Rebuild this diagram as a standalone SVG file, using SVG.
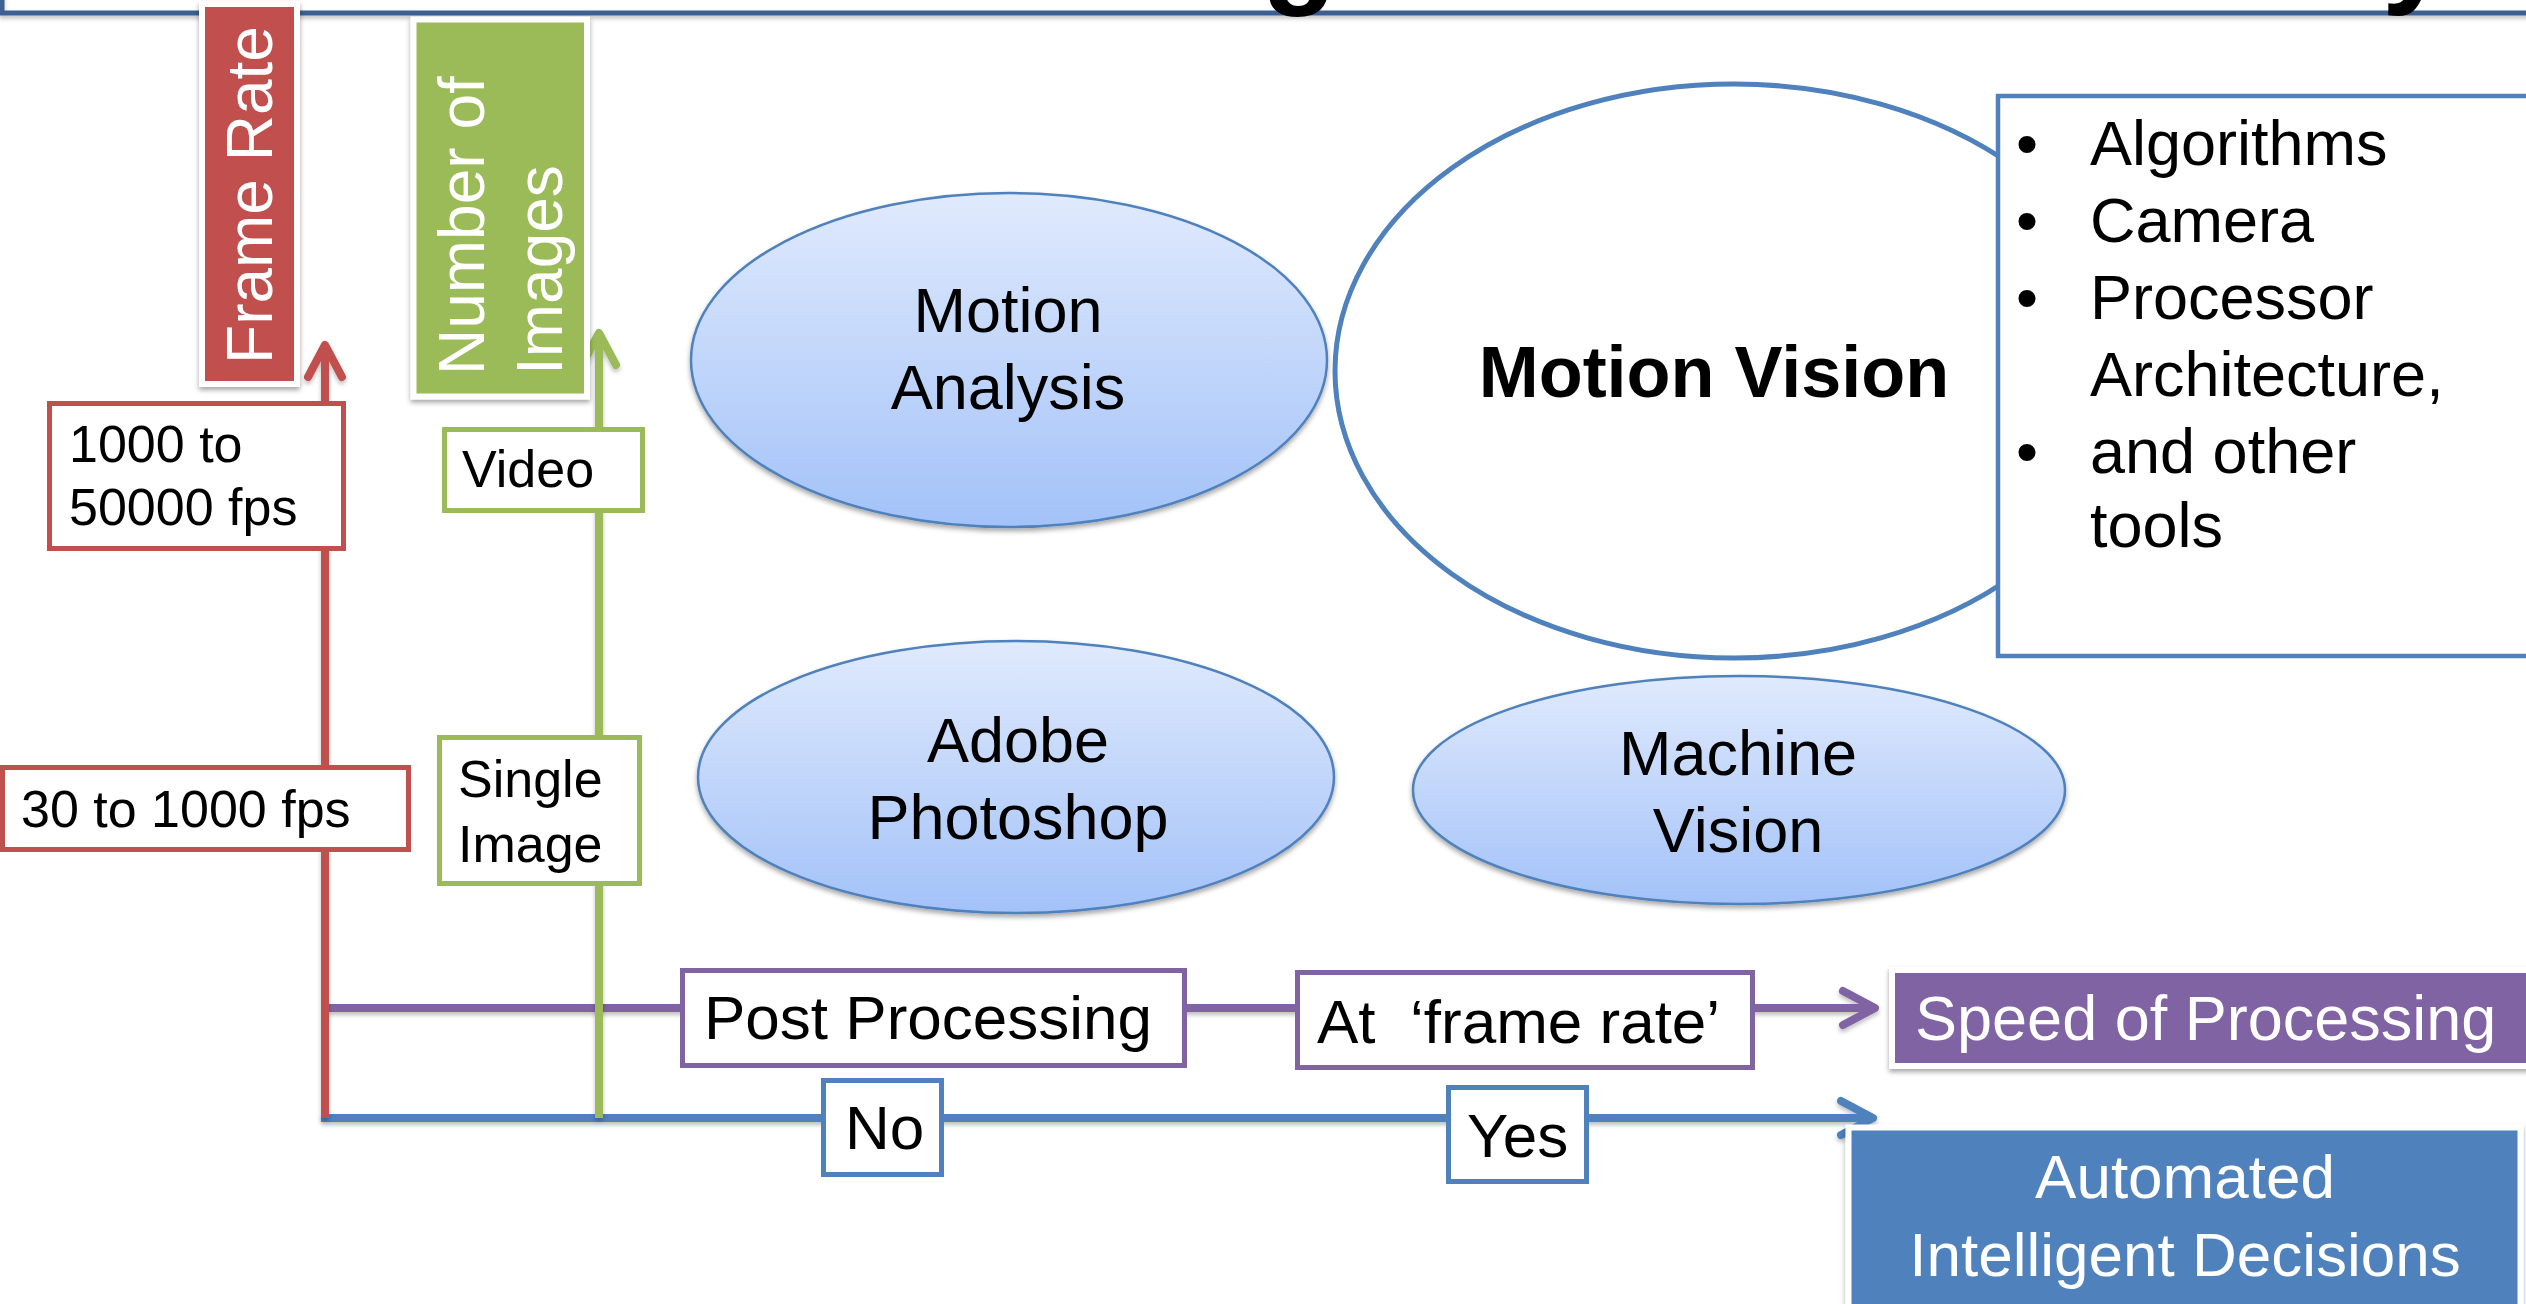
<svg xmlns="http://www.w3.org/2000/svg" width="2526" height="1304" viewBox="0 0 2526 1304">
  <defs>
    <linearGradient id="bubble" x1="0" y1="0" x2="0" y2="1">
      <stop offset="0" stop-color="#e0eafd"/>
      <stop offset="1" stop-color="#a3c2f8"/>
    </linearGradient>
    <filter id="shadow" x="-10%" y="-10%" width="120%" height="130%">
      <feDropShadow dx="0" dy="3" stdDeviation="2.5" flood-color="#000" flood-opacity="0.35"/>
    </filter>
    <!-- user-space region so zero-height strokes still get a shadow -->
    <filter id="lineShadow" filterUnits="userSpaceOnUse" x="-100" y="-100" width="2800" height="1500">
      <feDropShadow dx="0" dy="3" stdDeviation="2" flood-color="#000" flood-opacity="0.25"/>
    </filter>
    <marker id="headRed" markerUnits="userSpaceOnUse" orient="auto" markerWidth="60" markerHeight="60" viewBox="-40 -30 50 60" refX="0" refY="0" overflow="visible">
      <path d="M-32,-17 L0,0 L-32,17" fill="none" stroke="#c0504d" stroke-width="8" stroke-linecap="round" stroke-linejoin="round"/>
    </marker>
    <marker id="headGreen" markerUnits="userSpaceOnUse" orient="auto" markerWidth="60" markerHeight="60" viewBox="-40 -30 50 60" refX="0" refY="0" overflow="visible">
      <path d="M-32,-17 L0,0 L-32,17" fill="none" stroke="#9bbb59" stroke-width="8" stroke-linecap="round" stroke-linejoin="round"/>
    </marker>
    <marker id="headPurple" markerUnits="userSpaceOnUse" orient="auto" markerWidth="60" markerHeight="60" viewBox="-40 -30 50 60" refX="0" refY="0" overflow="visible">
      <path d="M-32,-17 L0,0 L-32,17" fill="none" stroke="#8064a2" stroke-width="8" stroke-linecap="round" stroke-linejoin="round"/>
    </marker>
    <marker id="headBlue" markerUnits="userSpaceOnUse" orient="auto" markerWidth="60" markerHeight="60" viewBox="-40 -30 50 60" refX="0" refY="0" overflow="visible">
      <path d="M-32,-17 L0,0 L-32,17" fill="none" stroke="#4f81bd" stroke-width="8" stroke-linecap="round" stroke-linejoin="round"/>
    </marker>
  </defs>
  <style>
    text { font-family: "Liberation Sans", Arial, sans-serif; fill: #000; }
    .t52 { font-size: 52px; }
    .t63 { font-size: 63px; }
    .white { fill: #fff; }
    .mid { text-anchor: middle; }
    .bold { font-weight: bold; }
    .bubble { fill: url(#bubble); stroke: #4f81bd; stroke-width: 2.5; filter: url(#shadow); }
    .lbl { fill: #fff; stroke-width: 5; }
    .red { stroke: #c0504d; }
    .green { stroke: #9bbb59; }
    .purple { stroke: #8064a2; }
    .blue { stroke: #4f81bd; }
    .axis { fill: none; stroke-width: 8; filter: url(#lineShadow); }
    .tile { stroke: #fff; stroke-width: 6; filter: url(#shadow); }
  </style>

  <rect width="2526" height="1304" fill="#fff"/>

  <!-- title frame along the top edge -->
  <g id="title-frame">
    <rect x="2" y="-60" width="2600" height="73" fill="none" stroke="#3b6191" stroke-width="5" filter="url(#lineShadow)"/>
    <text x="1262" y="-9" class="bold" font-size="122">g</text>
    <text x="2382" y="-9" class="bold" font-size="122">y</text>
  </g>

  <!-- connectors -->
  <g id="connectors">
    <path class="axis purple" d="M325,1008 H1875" marker-end="url(#headPurple)"/>
    <path class="axis blue" d="M321,1118 H1873" marker-end="url(#headBlue)"/>
    <path class="axis green" d="M599,1118 V333" marker-end="url(#headGreen)"/>
    <path class="axis red" d="M325,1118 V345" marker-end="url(#headRed)"/>
  </g>

  <!-- axis titles -->
  <g id="frame-rate">
    <rect class="tile" x="202" y="4" width="95" height="380" fill="#c0504d"/>
    <text class="white mid" font-size="64" transform="translate(272,195) rotate(-90)">Frame Rate</text>
  </g>
  <g id="number-of-images">
    <rect class="tile" x="413.5" y="19.5" width="173.5" height="377" fill="#9bbb59"/>
    <text class="white" font-size="64" transform="translate(484,375) rotate(-90)">
      <tspan x="0" y="0">Number of</tspan>
      <tspan x="0" y="78">Images</tspan>
    </text>
  </g>

  <!-- frame rate labels -->
  <g id="fps-high">
    <rect class="lbl red" x="49.5" y="403.5" width="294" height="145"/>
    <text class="t52" x="69" y="462">1000 to</text>
    <text class="t52" x="69" y="525">50000 fps</text>
  </g>
  <g id="fps-low">
    <rect class="lbl red" x="2.5" y="767.5" width="406" height="82"/>
    <text class="t52" x="21" y="827">30 to 1000 fps</text>
  </g>

  <!-- number of images labels -->
  <g id="video">
    <rect class="lbl green" x="444.5" y="429.5" width="198" height="81"/>
    <text class="t52" x="462" y="487">Video</text>
  </g>
  <g id="single-image">
    <rect class="lbl green" x="439.5" y="737.5" width="200" height="146"/>
    <text class="t52" x="458" y="797">Single</text>
    <text class="t52" x="458" y="862">Image</text>
  </g>

  <!-- application areas -->
  <g id="motion-analysis">
    <ellipse class="bubble" cx="1009" cy="360" rx="318" ry="167"/>
    <text class="t63 mid" x="1008" y="332">Motion</text>
    <text class="t63 mid" x="1008" y="409">Analysis</text>
  </g>
  <g id="adobe-photoshop">
    <ellipse class="bubble" cx="1016" cy="777" rx="318" ry="136"/>
    <text class="t63 mid" x="1018" y="762">Adobe</text>
    <text class="t63 mid" x="1018" y="839">Photoshop</text>
  </g>
  <g id="machine-vision">
    <ellipse class="bubble" cx="1739" cy="790" rx="326" ry="114"/>
    <text class="t63 mid" x="1738" y="775">Machine</text>
    <text class="t63 mid" x="1738" y="852">Vision</text>
  </g>
  <g id="motion-vision">
    <ellipse cx="1734" cy="371" rx="399" ry="287" fill="#fff" stroke="#4f81bd" stroke-width="5"/>
    <text class="bold mid" font-size="72" x="1714" y="397">Motion Vision</text>
  </g>
  <g id="tools">
    <rect x="1998" y="96" width="540" height="560" fill="#fff" stroke="#4f81bd" stroke-width="4.5"/>
    <g class="t63">
      <text x="2016" y="165">•</text>
      <text x="2090" y="165">Algorithms</text>
      <text x="2016" y="242">•</text>
      <text x="2090" y="242">Camera</text>
      <text x="2016" y="319">•</text>
      <text x="2090" y="319">Processor</text>
      <text x="2090" y="396">Architecture,</text>
      <text x="2016" y="473">•</text>
      <text x="2090" y="473">and other</text>
      <text x="2090" y="547">tools</text>
    </g>
  </g>

  <!-- processing speed labels -->
  <g id="post-processing">
    <rect class="lbl purple" x="682.5" y="970.5" width="502" height="95"/>
    <text x="704" y="1039" font-size="62">Post Processing</text>
  </g>
  <g id="at-frame-rate">
    <rect class="lbl purple" x="1297.5" y="972.5" width="455" height="95"/>
    <text x="1317" y="1043" font-size="62">At&#160; ‘frame rate’</text>
  </g>
  <g id="speed-of-processing">
    <rect class="tile" x="1892" y="970" width="640" height="96" fill="#8064a2"/>
    <text class="t63 white" x="1915" y="1040">Speed of Processing</text>
  </g>

  <!-- decision labels -->
  <g id="no">
    <rect class="lbl blue" x="823.5" y="1080.5" width="118" height="94"/>
    <text x="845" y="1149" font-size="62">No</text>
  </g>
  <g id="yes">
    <rect class="lbl blue" x="1448.5" y="1087.5" width="138" height="94"/>
    <text x="1467" y="1157" font-size="62">Yes</text>
  </g>
  <g id="automated-decisions">
    <rect class="tile" x="1848.5" y="1127.5" width="672" height="180" fill="#4f81bd"/>
    <text class="white mid" font-size="62" x="2185" y="1198">Automated</text>
    <text class="white mid" font-size="62" x="2185" y="1276">Intelligent Decisions</text>
  </g>
</svg>
